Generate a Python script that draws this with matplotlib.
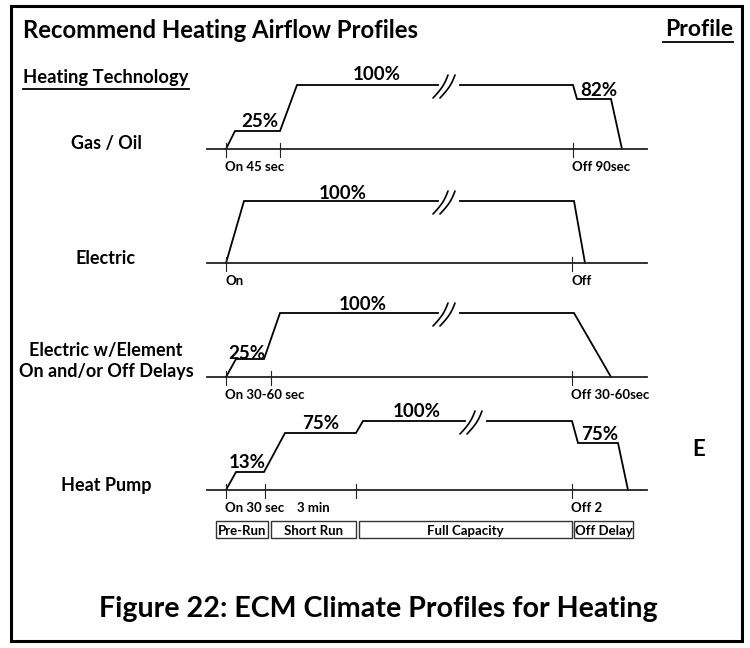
import matplotlib
matplotlib.use('Agg')
import matplotlib.pyplot as plt
from matplotlib import font_manager
from matplotlib.patches import Rectangle
import numpy as np

# ---- data (schematic; x = position along time axis, h = drawn height) ----
rows = ['Gas / Oil', 'Electric', 'Electric w/Element\nOn and/or Off Delays', 'Heat Pump']

gas_x = [226, 235, 280, 297, 573, 577, 611, 622]
gas_h = [0, 18, 18, 64, 64, 50, 50, 0]
elec_x = [226, 244, 574, 585]
elec_h = [0, 62, 62, 0]
elem_x = [226, 236, 264, 280, 574, 611]
elem_h = [0, 18, 18, 64, 64, 0]
hp_x = [226, 236, 264, 285, 356, 363, 572, 578, 618, 628]
hp_h = [0, 18, 18, 57, 57, 69, 69, 47, 47, 0]

gas_ticks = [226, 280, 573]
elec_ticks = [226, 572]
elem_ticks = [226, 271, 572]
hp_ticks = [226, 265, 356, 572]

gas_tlabels = [('On 45 sec', 226), ('Off 90sec', 573)]
elec_tlabels = [('On', 226), ('Off', 572)]
elem_tlabels = [('On 30-60 sec', 226), ('Off 30-60sec', 572)]
hp_tlabels = [('On 30 sec', 226), ('3 min', 298), ('Off 2', 572)]

# percent labels: (text, x, height above baseline)
gas_pct = [('25%', 260, 29), ('100%', 377, 76), ('82%', 599, 60)]
elec_pct = [('100%', 343, 71)]
elem_pct = [('25%', 247, 25), ('100%', 363, 74)]
hp_pct = [('13%', 247, 29), ('75%', 321, 68), ('100%', 417, 80), ('75%', 600, 57)]

phases = ['Pre-Run', 'Short Run', 'Full Capacity', 'Off Delay']
phase_edges = [(216, 268), (271, 356), (359, 572), (574, 633)]

# ---- layout ----
baselines = [149, 263, 377, 490]
breaks = [449, 449, 449, 476]
label_y = [144, 258, 361, 485]
axis_x0, axis_x1 = 207, 647

avail = {f.name for f in font_manager.fontManager.ttflist}
FONT = 'DejaVu Sans'
for fam in ['Liberation Sans Narrow', 'Lato', 'Open Sans', 'DejaVu Sans']:
    if fam in avail:
        FONT = fam
        break
plt.rcParams['font.family'] = [FONT, 'DejaVu Sans']
plt.rcParams['font.weight'] = 'bold'

fig = plt.figure(figsize=(7.5, 6.48), dpi=100)
ax = fig.add_axes([0, 0, 1, 1])
ax.set_xlim(0, 750)
ax.set_ylim(648, 0)
ax.axis('off')

# frame
ax.add_patch(Rectangle((11, 6), 731, 635, fill=False, edgecolor='black', lw=2.2))

# headers
ax.text(23, 28, 'Recommend Heating Airflow Profiles', fontsize=17.2, ha='left', va='center_baseline')
ax.text(733, 28, 'Profile', fontsize=16.5, ha='right', va='center_baseline')
ax.plot([663, 733], [42, 42], color='black', lw=1.3)
ax.text(23, 76, 'Heating Technology', fontsize=13.2, ha='left', va='center_baseline')
ax.plot([23, 189], [89, 89], color='black', lw=1.3)

profiles = [(gas_x, gas_h), (elec_x, elec_h), (elem_x, elem_h), (hp_x, hp_h)]
ticks = [gas_ticks, elec_ticks, elem_ticks, hp_ticks]
tlabels = [gas_tlabels, elec_tlabels, elem_tlabels, hp_tlabels]
pcts = [gas_pct, elec_pct, elem_pct, hp_pct]


def draw_break(bx, y):
    # the little "//" squiggle on the 100% plateau
    t = np.linspace(0, 1, 20)
    for off in (0, 7):
        xs = bx - 16 + off + 15 * t + 2.0 * np.sin(np.pi * t)
        ys = y + 13 - 23 * t
        ax.plot(xs, ys, color='black', lw=1.2, solid_capstyle='round')


for i in range(4):
    base = baselines[i]
    xs, hs = profiles[i]
    xs = np.array(xs, dtype=float)
    ys = base - np.array(hs, dtype=float)
    bx = breaks[i]
    # split the plateau that contains the break
    left = xs <= bx
    seg_l_x = list(xs[left]) + [bx - 11]
    seg_l_y = list(ys[left]) + [ys[left][-1]]
    seg_r_x = [bx + 11] + list(xs[~left])
    seg_r_y = [ys[~left][0]] + list(ys[~left])
    ax.plot(seg_l_x, seg_l_y, color='black', lw=1.3, solid_joinstyle='miter')
    ax.plot(seg_r_x, seg_r_y, color='black', lw=1.3, solid_joinstyle='miter')
    draw_break(bx, ys[left][-1])

    # baseline and ticks
    ax.plot([axis_x0, axis_x1], [base, base], color='#222222', lw=1.3)
    for tx in ticks[i]:
        ax.plot([tx, tx], [base - 6, base + 8], color='#222222', lw=0.8)
    for txt, tx in tlabels[i]:
        ax.text(tx - 1, base + 17, txt, fontsize=9.5, ha='left', va='center_baseline')
    for txt, px, ph in pcts[i]:
        ax.text(px, base - ph, txt, fontsize=13.5, ha='center', va='center_baseline')

    ax.text(106, label_y[i], rows[i], fontsize=13, ha='center', va='center',
            linespacing=1.35)

# phase boxes under heat pump
for name, (x0, x1) in zip(phases, phase_edges):
    ax.add_patch(Rectangle((x0, 521), x1 - x0, 17, fill=False, edgecolor='#333333', lw=1.0))
    ax.text((x0 + x1) / 2, 530, name, fontsize=9.5, ha='center', va='center_baseline')

ax.text(699, 447, 'E', fontsize=16, ha='center', va='center_baseline')

ax.text(378, 606, 'Figure 22: ECM Climate Profiles for Heating', fontsize=20.6,
        ha='center', va='center_baseline')

fig.savefig('out.png', dpi=100)
